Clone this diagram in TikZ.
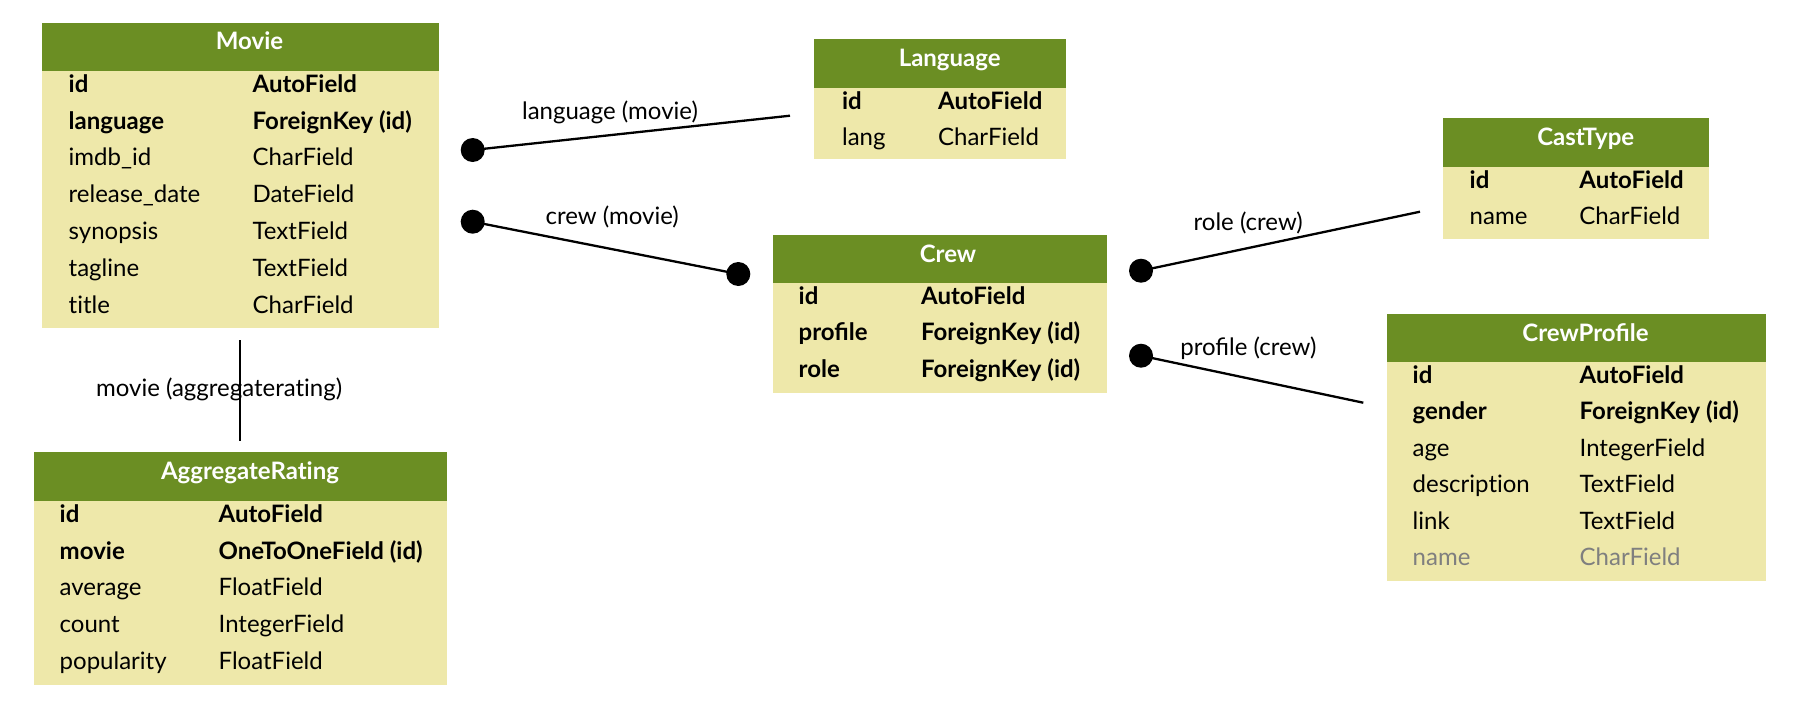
\documentclass[tikz,border=0pt]{standalone}
\usepackage{fontspec}
\setmainfont{Lato}
\usetikzlibrary{fit}
\definecolor{hdr}{HTML}{6B8E23}
\definecolor{bodyc}{HTML}{EEE8AA}
\definecolor{greyt}{HTML}{7F7F7F}
\newcommand{\fb}{\bfseries}
\newcommand{\fr}{\mdseries}
\newcommand{\fg}{\color{greyt}}
\newcommand{\tix}{t\kern0pt i}
\tikzset{
  tablebody/.style={fill=bodyc, inner sep=0pt, draw=none},
  fld/.style={anchor=base west, inner sep=0pt, font=\fontsize{12}{14}\selectfont},
  ttl/.style={anchor=base, inner sep=0pt, text=white, font=\fontsize{12}{14}\selectfont\bfseries},
  lbl/.style={anchor=base west, inner sep=0pt, font=\fontsize{12}{14}\selectfont},
  dotend/.style={circle, fill=black, minimum size=12pt, inner sep=0pt},
  edge/.style={line width=1.15pt, black}
}
% #1 name, #2 x1, #3 x2, #4 top, #5 header bottom, #6 bottom, #7 title, #8 title x, #9 number of rows
\newcommand{\erdbox}[9]{%
  \node[tablebody, fit={(#2,#4)(#3,#6)}] (#1) {};
  \fill[hdr] (#2,#4) rectangle (#3,#5);
  \node[ttl] (#1-title) at (#8,#4+27) {#7};
  \pgfmathsetmacro{\erdpitch}{(#6-#5)/#9}
  \pgfmathsetmacro{\erdbase}{#5+21.5}
}
\begin{document}
\begin{tikzpicture}[x=0.5pt,y=-0.5pt]
\useasboundingbox (0,0) rectangle (1800,708);
\fill[white] (0,0) rectangle (1800,708);

% Movie
\erdbox{movie}{42.3}{438.7}{22.7}{70.7}{328.3}{Movie}{249.5}{7}
\foreach \n/\t/\s [count=\i] in {id/AutoField/\fb, language/ForeignKey (id)/\fb, imdb\_id/CharField/\fr, release\_date/DateField/\fr, synopsis/TextField/\fr, tagline/TextField/\fr, \tix tle/CharField/\fr}{
  \node[fld] (movie-n\i) at (68.3,\erdbase+\erdpitch*\i-\erdpitch) {\s\n};
  \node[fld] (movie-t\i) at (252.3,\erdbase+\erdpitch*\i-\erdpitch) {\s\t};
}

% Language
\erdbox{language}{814.3}{1066}{39}{87.7}{159.3}{Language}{949.7}{2}
\foreach \n/\t/\s [count=\i] in {id/AutoField/\fb, lang/CharField/\fr}{
  \node[fld] (language-n\i) at (841.7,\erdbase+\erdpitch*\i-\erdpitch) {\s\n};
  \node[fld] (language-t\i) at (937.7,\erdbase+\erdpitch*\i-\erdpitch) {\s\t};
}

% Crew
\erdbox{crew}{772.7}{1106.7}{235}{282.7}{392.7}{Crew}{948}{3}
\foreach \n/\t/\s [count=\i] in {id/AutoField/\fb, profile/ForeignKey (id)/\fb, role/ForeignKey (id)/\fb}{
  \node[fld] (crew-n\i) at (798.3,\erdbase+\erdpitch*\i-\erdpitch) {\s\n};
  \node[fld] (crew-t\i) at (920.7,\erdbase+\erdpitch*\i-\erdpitch) {\s\t};
}

% CastType
\erdbox{casttype}{1443.3}{1709.3}{118.3}{166.7}{238.7}{CastType}{1585.7}{2}
\foreach \n/\t/\s [count=\i] in {id/AutoField/\fb, name/CharField/\fr}{
  \node[fld] (casttype-n\i) at (1469.3,\erdbase+\erdpitch*\i-\erdpitch) {\s\n};
  \node[fld] (casttype-t\i) at (1579,\erdbase+\erdpitch*\i-\erdpitch) {\s\t};
}

% CrewProfile
\erdbox{crewprofile}{1386.7}{1765.7}{314}{361.7}{581}{CrewProfile}{1585.5}{6}
\foreach \n/\t/\s [count=\i] in {id/AutoField/\fb, gender/ForeignKey (id)/\fb, age/IntegerField/\fr, descrip\tix on/TextField/\fr, link/TextField/\fr, name/CharField/\fg}{
  \node[fld] (crewprofile-n\i) at (1412.3,\erdbase+\erdpitch*\i-\erdpitch) {\s\n};
  \node[fld] (crewprofile-t\i) at (1579.3,\erdbase+\erdpitch*\i-\erdpitch) {\s\t};
}

% AggregateRating
\erdbox{aggregaterating}{34}{446.7}{452.3}{500.7}{684.7}{AggregateRa\tix ng}{250}{5}
\foreach \n/\t/\s [count=\i] in {id/AutoField/\fb, movie/OneToOneField (id)/\fb, average/FloatField/\fr, count/IntegerField/\fr, popularity/FloatField/\fr}{
  \node[fld] (aggregaterating-n\i) at (59.3,\erdbase+\erdpitch*\i-\erdpitch) {\s\n};
  \node[fld] (aggregaterating-t\i) at (218.3,\erdbase+\erdpitch*\i-\erdpitch) {\s\t};
}

% Connectors
\node[dotend] (dlang) at (472.7,150) {};
\coordinate (elang) at (790,115.7);
\draw[edge] (dlang.center) -- (elang);
\node[lbl] (llang) at (521.7,119.5) {language (movie)};

\node[dotend] (dcrew1) at (472.7,221.7) {};
\node[dotend] (dcrew2) at (738.3,274) {};
\draw[edge] (dcrew1.center) -- (dcrew2.center);
\node[lbl] (lcrew) at (545.3,224) {crew (movie)};

\node[dotend] (drole) at (1141,270.7) {};
\coordinate (erole) at (1420,211.7);
\draw[edge] (drole.center) -- (erole);
\node[lbl] (lrole) at (1193.3,230) {role (crew)};

\node[dotend] (dprof) at (1141,355.7) {};
\coordinate (eprof) at (1363.3,402.7);
\draw[edge] (dprof.center) -- (eprof);
\node[lbl] (lprof) at (1180,355) {profile (crew)};

\coordinate (vtop) at (240.3,340);
\coordinate (vbot) at (240.3,440.7);
\draw[edge] (vtop) -- (vbot);
\node[lbl] (lagg) at (95.7,396) {movie (aggregatera\tix ng)};
\end{tikzpicture}
\end{document}
